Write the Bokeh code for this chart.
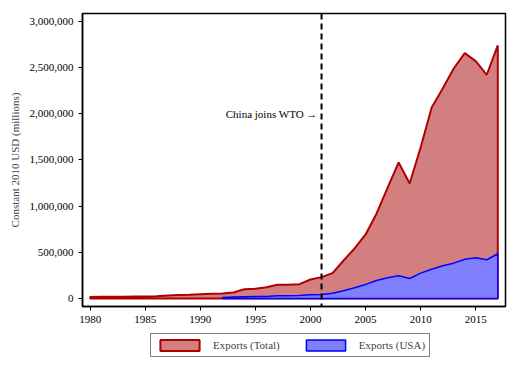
from bokeh.plotting import figure
from bokeh.layouts import column
from bokeh.models import Span, Label, Legend, LegendItem, NumeralTickFormatter, FixedTicker, Range1d
from bokeh.embed import file_html
from bokeh.resources import INLINE

years_total = list(range(1980, 2018))
exports_total = [15000, 18000, 18000, 19000, 22000, 22000, 25000, 33000, 38000, 40000,
                 45000, 50000, 55000, 65000, 101000, 105000, 122000, 148000, 148000, 155000,
                 205000, 231000, 274000, 411000, 541000, 693000, 920000, 1200000, 1472000, 1245000,
                 1637000, 2067000, 2273000, 2489000, 2655000, 2568000, 2421000, 2738000]
years_usa = list(range(1992, 2018))
exports_usa = [10000, 15000, 18000, 20000, 22000, 28000, 30000, 32000,
               40000, 43000, 56000, 83000, 116000, 152000, 195000, 224000, 245000, 216000,
               274000, 317000, 354000, 382000, 425000, 440000, 419000, 484000]
wto_year = 2001
x_ticks = [1980, 1985, 1990, 1995, 2000, 2005, 2010, 2015]
y_ticks = [0, 500000, 1000000, 1500000, 2000000, 2500000, 3000000]
series_labels = ["Exports (Total)", "Exports (USA)"]

FONT = "Liberation Serif"
TOTAL_STYLE = dict(fill_color="#d37f80", line_color="#b00000", line_width=2)
USA_STYLE = dict(fill_color="#8080ff", line_color="#0000ff", line_width=1.5)

p = figure(width=512, height=330, output_backend="svg", toolbar_location=None,
           x_range=Range1d(1979.3, 2017.7), y_range=Range1d(-87000, 3084000),
           min_border_left=82, min_border_right=7, min_border_top=13, min_border_bottom=24)

def patch_of(xs, ys):
    return xs + xs[::-1], ys + [0] * len(ys)

tx, ty = patch_of(years_total, exports_total)
p.patch(tx, ty, **TOTAL_STYLE)
ux, uy = patch_of(years_usa, exports_usa)
p.patch(ux, uy, **USA_STYLE)

p.add_layout(Span(location=wto_year, dimension="height", line_color="black",
                  line_dash="6 4", line_width=2))
p.add_layout(Label(x=wto_year, y=2000000, text="China joins WTO \u2192", x_offset=-4,
                   text_align="right", text_baseline="middle", text_font=FONT,
                   text_font_size="11px", text_color="black"))

p.outline_line_color = "black"
p.outline_line_width = 1.5
p.grid.visible = False

for ax in (p.xaxis[0], p.yaxis[0]):
    ax.major_label_text_font = FONT
    ax.major_label_text_font_size = "11px"
    ax.major_label_text_color = "black"
    ax.axis_line_color = "black"
    ax.axis_line_width = 1.5
    ax.major_tick_line_color = "black"
    ax.major_tick_out = 4
    ax.major_tick_in = 0
    ax.minor_tick_line_color = None

p.xaxis[0].ticker = FixedTicker(ticks=x_ticks)
p.yaxis[0].ticker = FixedTicker(ticks=y_ticks)
p.yaxis[0].formatter = NumeralTickFormatter(format="0,0")
p.yaxis[0].axis_label = "Constant 2010 USD (millions)"
p.yaxis[0].axis_label_text_font = FONT
p.yaxis[0].axis_label_text_font_size = "11px"
p.yaxis[0].axis_label_text_font_style = "normal"
p.yaxis[0].axis_label_standoff = 6

# legend strip below the chart (its glyphs lie outside its visible range)
lg = figure(width=512, height=44, output_backend="svg", toolbar_location=None,
            x_range=Range1d(0, 1), y_range=Range1d(0, 1),
            min_border_left=0, min_border_right=0, min_border_top=0, min_border_bottom=0,
            x_axis_location=None, y_axis_location=None)
lg.outline_line_color = None
lg.grid.visible = False
lr1 = lg.patch(tx, ty, **TOTAL_STYLE)
lr2 = lg.patch(ux, uy, **USA_STYLE)
legend = Legend(items=[LegendItem(label=series_labels[0], renderers=[lr1]),
                       LegendItem(label=series_labels[1], renderers=[lr2])],
                orientation="horizontal", location=(68, 17),
                label_text_font=FONT, label_text_font_size="11px",
                glyph_width=49, glyph_height=14, spacing=21, padding=4,
                border_line_color="black", border_line_width=1.5, margin=0,
                label_standoff=9, label_height=14)
lg.add_layout(legend, "center")

open("out.html", "w").write(file_html(column(p, lg, spacing=0), INLINE))
